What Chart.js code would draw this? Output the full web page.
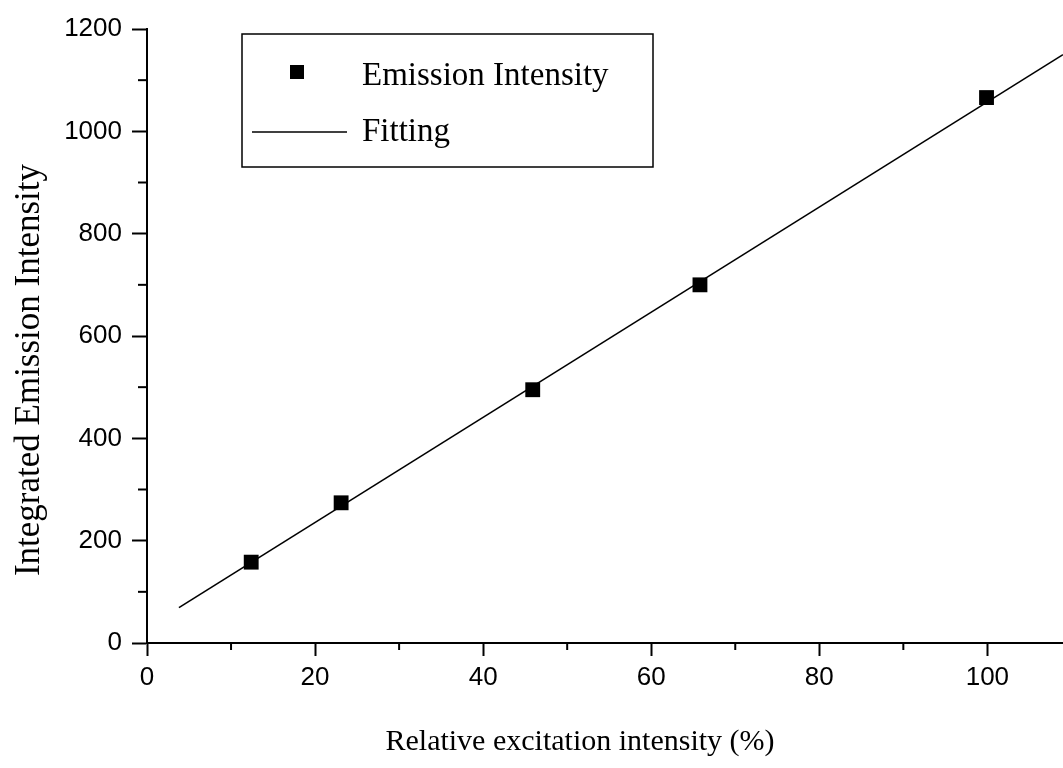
<!DOCTYPE html>
<html lang="en">
<head>
    <meta charset="UTF-8">
    <title>Emission Intensity</title>
    <script src="https://cdn.jsdelivr.net/npm/chart.js"></script>
</head>

<style>
    body { margin: 0; background: #fff; }
    .grafico_sty { width: 1063px; height: 768px; }
</style>

<body>

    <div class="grafico_sty">
        <canvas id="grafico_1"></canvas>
    </div>

    <script>

        // data
        const excitacao = [12.4, 23.1, 45.9, 65.8, 99.9];
        const emissao = [158, 274, 495, 700, 1066];
        const ajusteX = [3.8, 109];
        const ajusteY = [69, 1150];

        const xTicks = [0, 20, 40, 60, 80, 100];
        const xMinor = [10, 30, 50, 70, 90];
        const yTicks = [0, 200, 400, 600, 800, 1000, 1200];
        const yMinor = [100, 300, 500, 700, 900, 1100];

        const serif = "'Liberation Serif', 'Times New Roman', serif";
        const sans = "'Liberation Sans', Arial, sans-serif";

        // minor ticks, legend box and axis titles
        const extras = {
            id: 'extras',
            afterDraw(chart) {
                const c = chart.ctx;
                const sx = chart.scales.x, sy = chart.scales.y;
                const area = chart.chartArea;
                c.save();
                c.strokeStyle = '#000';
                c.lineWidth = 2;
                xMinor.forEach(v => {
                    const px = sx.getPixelForValue(v);
                    c.beginPath(); c.moveTo(px, area.bottom); c.lineTo(px, area.bottom + 7); c.stroke();
                });
                yMinor.forEach(v => {
                    const py = sy.getPixelForValue(v);
                    c.beginPath(); c.moveTo(area.left, py); c.lineTo(area.left - 9, py); c.stroke();
                });

                // legend
                c.lineWidth = 1.5;
                c.strokeRect(242, 34, 411, 133);
                c.fillStyle = '#000';
                c.fillRect(290, 65, 14, 14);
                c.beginPath(); c.moveTo(252, 132); c.lineTo(347, 132); c.stroke();
                c.font = '33px ' + serif;
                c.textBaseline = 'middle';
                c.textAlign = 'left';
                c.fillText('Emission Intensity', 362, 76);
                c.fillText('Fitting', 362, 132);

                // axis titles
                c.textAlign = 'center';
                c.font = '30px ' + serif;
                c.fillText('Relative excitation intensity (%)', 580, 742);
                c.font = '35px ' + serif;
                c.translate(30, 370);
                c.rotate(-Math.PI / 2);
                c.fillText('Integrated Emission Intensity', 0, 0);
                c.restore();
            }
        };

        const ctx = document.getElementById('grafico_1');

        const grafico_1 = new Chart(ctx, {
            type: 'scatter',
            data: {
                datasets: [{
                    label: 'Emission Intensity',
                    data: excitacao.map((v, i) => ({ x: v, y: emissao[i] })),
                    pointStyle: 'rect',
                    pointRadius: 10.5,
                    backgroundColor: '#000',
                    borderColor: '#000',
                    borderWidth: 0,
                    showLine: false,
                    order: 1
                }, {
                    label: 'Fitting',
                    data: ajusteX.map((v, i) => ({ x: v, y: ajusteY[i] })),
                    showLine: true,
                    borderColor: '#000',
                    borderWidth: 1.6,
                    pointRadius: 0,
                    order: 2
                }]
            },
            options: {
                responsive: true,
                maintainAspectRatio: false,
                animation: false,
                layout: { autoPadding: false, padding: { top: 29, right: 0, left: 0, bottom: 0 } },
                plugins: {
                    legend: { display: false },
                    tooltip: { enabled: false }
                },
                scales: {
                    x: {
                        type: 'linear',
                        min: 0,
                        max: 109,
                        afterBuildTicks: s => { s.ticks = xTicks.map(v => ({ value: v })); },
                        afterFit: s => { s.height = 125; s.paddingLeft = 0; s.paddingRight = 0; },
                        grid: { drawOnChartArea: false, tickLength: 13, tickWidth: 2, tickColor: '#000' },
                        border: { color: '#000', width: 2 },
                        ticks: { color: '#000', font: { family: sans, size: 26 }, padding: 6, callback: v => String(v) }
                    },
                    y: {
                        min: 0,
                        max: 1200,
                        afterBuildTicks: s => { s.ticks = yTicks.map(v => ({ value: v })); },
                        afterFit: s => { s.width = 147; },
                        grid: { drawOnChartArea: false, tickLength: 15, tickWidth: 2, tickColor: '#000' },
                        border: { color: '#000', width: 2 },
                        ticks: { color: '#000', font: { family: sans, size: 26 }, padding: 10, callback: v => String(v) }
                    }
                }
            },
            plugins: [extras]
        });

    </script>

</body>
</html>
